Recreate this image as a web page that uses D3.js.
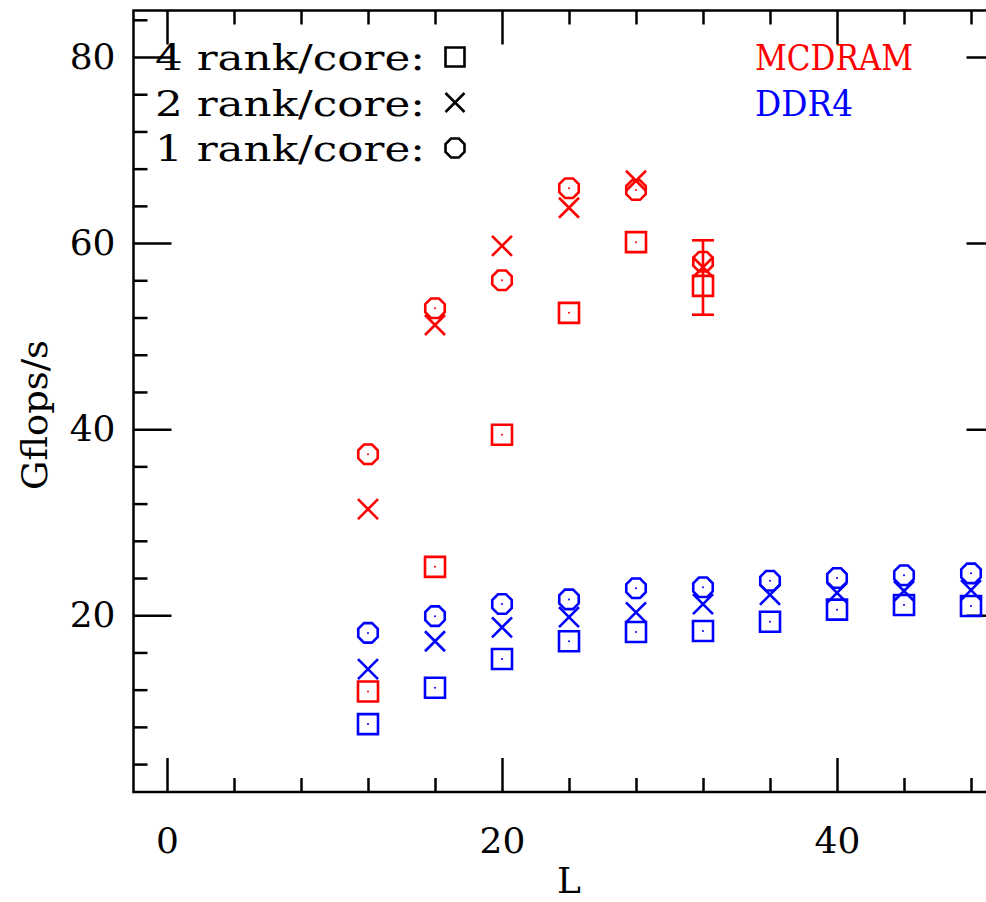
<!DOCTYPE html>
<html>
<head>
<meta charset="utf-8">
<script src="https://cdn.jsdelivr.net/npm/d3@7"></script>
<style>
  html, body { margin: 0; background: #fff; overflow: hidden; }
  svg { display: block; }
  text { font-family: "DejaVu Serif", "Liberation Serif", serif; }
</style>
</head>
<body>
<svg width="986" height="902"></svg>
<script>
// lattice sizes
var mcdramL = [12, 16, 20, 24, 28, 32];
var ddr4L = [12, 16, 20, 24, 28, 32, 36, 40, 44, 48];

// Gflops/s, MCDRAM (red)
var mcdram1 = [37.3, 53.0, 56.0, 65.9, 65.7, 58.0];
var mcdram2 = [31.4, 51.2, 59.7, 63.8, 66.7, 57.4];
var mcdram4 = [11.8, 25.2, 39.4, 52.5, 60.1, 55.4];
// error bar on the L=32 point
var errL = [32];
var errLo = [52.3];
var errHi = [60.3];

// Gflops/s, DDR4 (blue)
var ddr1 = [18.1, 19.9, 21.2, 21.7, 22.9, 23.0, 23.7, 24.0, 24.3, 24.5];
var ddr2 = [14.2, 17.2, 18.7, 19.8, 20.3, 21.2, 22.2, 22.4, 22.6, 22.7];
var ddr4 = [8.3, 12.2, 15.3, 17.2, 18.2, 18.3, 19.3, 20.6, 21.1, 21.0];

var legendLabels = ["4 rank/core:", "2 rank/core:", "1 rank/core:"];
var memLabels = ["MCDRAM", "DDR4"];

var svg = d3.select("svg");

var x = d3.scaleLinear().domain([-2, 50]).range([133.5, 1004.5]);
var y = d3.scaleLinear().domain([1, 85]).range([792, 10.5]);

var majorX = [0, 20, 40],
    minorX = d3.range(4, 50, 4).filter(function (d) { return d % 20 != 0; }),
    majorY = [20, 40, 60, 80],
    minorY = d3.range(4, 85, 4).filter(function (d) { return d % 20 != 0; });

// marker shapes
var square = { draw: function (c, s) { var h = Math.sqrt(s) / 2; c.rect(-h, -h, 2 * h, 2 * h); } };
var cross = { draw: function (c, s) { var h = Math.sqrt(s) / 2;
    c.moveTo(-h, -h); c.lineTo(h, h); c.moveTo(h, -h); c.lineTo(-h, h); } };
var octagon = { draw: function (c, s) { var r = Math.sqrt(s) / 2 / Math.cos(Math.PI / 8);
    for (var i = 0; i < 8; i++) {
        var a = Math.PI / 8 + i * Math.PI / 4;
        if (i == 0) c.moveTo(r * Math.cos(a), r * Math.sin(a)); else c.lineTo(r * Math.cos(a), r * Math.sin(a));
    }
    c.closePath(); } };

function axis(gen, tr, ticks, size, pad, labels) {
    var g = svg.append("g").attr("transform", tr)
        .call(gen.tickValues(ticks).tickSize(size).tickPadding(pad)
            .tickFormat(labels ? d3.format("d") : ""));
    g.select(".domain").remove();
    g.selectAll("line").attr("stroke", "#000").attr("stroke-width", 2.5);
    g.selectAll("text").attr("font-size", 36).attr("fill", "#000");
    return g;
}

// ticks on all four sides, pointing inward
axis(d3.axisBottom(x), "translate(0,792)", majorX, -34, 35, true);
axis(d3.axisBottom(x), "translate(0,792)", minorX, -14, 0, false);
axis(d3.axisTop(x), "translate(0,10.5)", majorX, -34, 0, false);
axis(d3.axisTop(x), "translate(0,10.5)", minorX, -14, 0, false);
axis(d3.axisLeft(y), "translate(133.5,0)", majorY, -38, 18, true);
axis(d3.axisLeft(y), "translate(133.5,0)", minorY, -14, 0, false);
axis(d3.axisRight(y), "translate(1004.5,0)", majorY, -38, 0, false);
axis(d3.axisRight(y), "translate(1004.5,0)", minorY, -14, 0, false);

svg.append("rect")
    .attr("x", x(-2)).attr("y", y(85))
    .attr("width", x(50) - x(-2)).attr("height", y(1) - y(85))
    .attr("fill", "none").attr("stroke", "#000").attr("stroke-width", 2.5);

// axis titles
svg.append("text").attr("x", x(24)).attr("y", 893)
    .attr("text-anchor", "middle").attr("font-size", 36).text("L");
svg.append("text")
    .attr("transform", "translate(47,415) rotate(-90)")
    .attr("text-anchor", "middle").attr("font-size", 36)
    .attr("textLength", 150).attr("lengthAdjust", "spacingAndGlyphs").text("Gflops/s");

function series(xs, ys, shape, color, size) {
    var g = svg.append("g");
    xs.forEach(function (l, i) {
        var p = g.append("g").attr("transform", "translate(" + x(l) + "," + y(ys[i]) + ")");
        p.append("path").attr("d", d3.symbol().type(shape).size(size)())
            .attr("fill", "none").attr("stroke", color).attr("stroke-width", 2.6);
        if (shape != cross)
            p.append("circle").attr("r", 1).attr("fill", color);
    });
}

var red = "#ff0000", blue = "#0000ff";

series(ddr4L, ddr4, square, blue, 400);
series(ddr4L, ddr2, cross, blue, 400);
series(ddr4L, ddr1, octagon, blue, 380);

series(mcdramL, mcdram4, square, red, 400);
series(mcdramL, mcdram2, cross, red, 400);
series(mcdramL, mcdram1, octagon, red, 380);

// error bar
errL.forEach(function (l, i) {
    var g = svg.append("g").attr("stroke", red).attr("stroke-width", 2.6);
    g.append("line").attr("x1", x(l)).attr("x2", x(l)).attr("y1", y(errLo[i])).attr("y2", y(errHi[i]));
    [errLo[i], errHi[i]].forEach(function (v) {
        g.append("line").attr("x1", x(l) - 11).attr("x2", x(l) + 11).attr("y1", y(v)).attr("y2", y(v));
    });
});

// legend
var shapes = [square, cross, octagon];
legendLabels.forEach(function (t, i) {
    var cy = 57 + i * 45.5;
    svg.append("text").attr("x", 155).attr("y", cy + 13).attr("font-size", 36)
        .attr("textLength", 270).attr("lengthAdjust", "spacingAndGlyphs").text(t);
    svg.append("path")
        .attr("transform", "translate(455," + cy + ")")
        .attr("d", d3.symbol().type(shapes[i]).size(360)())
        .attr("fill", "none").attr("stroke", "#000").attr("stroke-width", 2.6);
});

var memWidths = [158, 98];
memLabels.forEach(function (t, i) {
    svg.append("text").attr("x", 755).attr("y", 70 + i * 46)
        .attr("font-size", 36).attr("textLength", memWidths[i]).attr("lengthAdjust", "spacingAndGlyphs")
        .attr("fill", i == 0 ? red : blue).text(t);
});
</script>
</body>
</html>
